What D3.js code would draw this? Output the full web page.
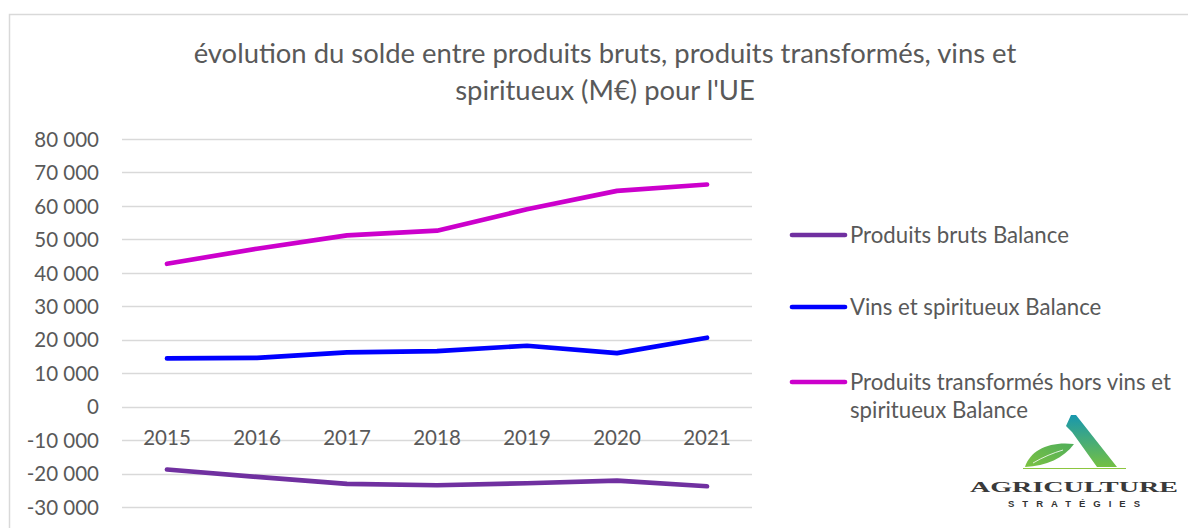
<!DOCTYPE html>
<html>
<head>
<meta charset="utf-8">
<script src="https://cdn.jsdelivr.net/npm/d3@7/dist/d3.min.js"></script>
<style>
  html, body { margin: 0; padding: 0; background: #fff; }
  svg { display: block; }
  text { font-family: Lato, "Open Sans", sans-serif; fill: #595959; }
</style>
</head>
<body>
<svg id="chart" width="1188" height="528"></svg>
<script>
// ---- data ----
const years = ["2015", "2016", "2017", "2018", "2019", "2020", "2021"];
const produitsBruts = [-18800, -21000, -23100, -23500, -22900, -22100, -23800];
const vinsSpiritueux = [14400, 14600, 16200, 16600, 18200, 16000, 20600];
const produitsTransformes = [42700, 47200, 51200, 52600, 59000, 64500, 66400];
const seriesNames = ["Produits bruts Balance", "Vins et spiritueux Balance", "Produits transformés hors vins et spiritueux Balance"];
const yTicks = [-30000, -20000, -10000, 0, 10000, 20000, 30000, 40000, 50000, 60000, 70000, 80000];
const titleLines = ["évolution du solde entre produits bruts, produits transformés, vins et", "spiritueux (M€) pour l'UE"];

const colors = ["#7030A0", "#0000FF", "#CC00CC"];
const seriesValues = [produitsBruts, vinsSpiritueux, produitsTransformes];

const svg = d3.select("#chart");

// frame
svg.append("rect").attr("x", 9.5).attr("y", 14.5).attr("width", 1300).attr("height", 600)
  .attr("fill", "#fff").attr("stroke", "#D9D9D9").attr("stroke-width", 1.5);

function fitText(sel, target) {
  const node = sel.node();
  const w = node.getComputedTextLength();
  const fs = parseFloat(sel.attr("font-size"));
  sel.attr("font-size", (fs * target / w).toFixed(2));
}

// title
const t1 = svg.append("text").attr("x", 605).attr("y", 63).attr("text-anchor", "middle")
  .attr("font-size", 24).text(titleLines[0]);
fitText(t1, 823);
svg.append("text").attr("x", 605).attr("y", 100).attr("text-anchor", "middle")
  .attr("font-size", t1.attr("font-size")).text(titleLines[1]);

// scales
const x = d3.scaleBand().domain(years).range([122, 752]);
const y = d3.scaleLinear().domain([-30000, 80000]).range([507, 139]);

const locale = d3.formatLocale({ decimal: ",", thousands: " ", grouping: [3], currency: ["", "€"], minus: "-" });
const fmt = locale.format(",d");

// gridlines
svg.append("g").selectAll("line").data(yTicks).join("line")
  .attr("x1", 122).attr("x2", 752)
  .attr("y1", d => Math.round(y(d)) + 0.5).attr("y2", d => Math.round(y(d)) + 0.5)
  .attr("stroke", "#D9D9D9").attr("stroke-width", 1.3);

// y axis labels
const yAxis = d3.axisLeft(y).tickValues(yTicks).tickFormat(d => fmt(d)).tickSize(0).tickPadding(0);
const gy = svg.append("g").attr("transform", "translate(99,0)").call(yAxis);
gy.select(".domain").remove();
gy.selectAll("text").attr("font-size", 20.5).attr("fill", "#595959")
  .style("font-family", "Lato, sans-serif").attr("dy", "0.35em");

// x axis labels (at zero line)
const xAxis = d3.axisBottom(x).tickSize(0).tickPadding(0);
const gx = svg.append("g").attr("transform", `translate(0,${y(0)})`).call(xAxis);
gx.select(".domain").remove();
gx.selectAll("text").attr("font-size", 20.5).attr("fill", "#595959")
  .style("font-family", "Lato, sans-serif").attr("y", 31).attr("dy", "0.35em");

// lines
const line = d3.line().x((d, i) => x(years[i]) + x.bandwidth() / 2).y(d => y(d));
seriesValues.forEach((vals, k) => {
  svg.append("path").datum(vals).attr("d", line)
    .attr("fill", "none").attr("stroke", colors[k]).attr("stroke-width", 4.7)
    .attr("stroke-linecap", "round").attr("stroke-linejoin", "round");
});

// legend
const legY = [235, 307, 382];
seriesNames.forEach((name, k) => {
  svg.append("line").attr("x1", 792).attr("x2", 845).attr("y1", legY[k]).attr("y2", legY[k])
    .attr("stroke", colors[k]).attr("stroke-width", 4.7).attr("stroke-linecap", "round");
});
const lg0 = svg.append("text").attr("x", 850).attr("y", legY[0]).attr("dy", "0.35em").attr("font-size", 20).text(seriesNames[0]);
fitText(lg0, 219);
const lfs = lg0.attr("font-size");
svg.append("text").attr("x", 850).attr("y", legY[1]).attr("dy", "0.35em").attr("font-size", lfs).text(seriesNames[1]);
svg.append("text").attr("x", 850).attr("y", legY[2]).attr("dy", "0.35em").attr("font-size", lfs).text("Produits transformés hors vins et");
svg.append("text").attr("x", 850).attr("y", legY[2] + 28).attr("dy", "0.35em").attr("font-size", lfs).text("spiritueux Balance");

// logo
const defs = svg.append("defs");
const grad = defs.append("linearGradient").attr("id", "gA").attr("x1", 0).attr("y1", 0).attr("x2", 0).attr("y2", 1);
grad.append("stop").attr("offset", "0%").attr("stop-color", "#1897AE");
grad.append("stop").attr("offset", "100%").attr("stop-color", "#74C043");
const grad2 = defs.append("linearGradient").attr("id", "gL").attr("x1", 0).attr("y1", 1).attr("x2", 1).attr("y2", 0);
grad2.append("stop").attr("offset", "0%").attr("stop-color", "#7DC242");
grad2.append("stop").attr("offset", "100%").attr("stop-color", "#4FAE5A");
const logo = svg.append("g");
logo.append("path").attr("d", "M1071,415 L1076,415 L1117,467 L1097,467 L1072,432 L1066,426 Z").attr("fill", "url(#gA)");
logo.append("path").attr("d", "M1025,467 C1030,450 1050,441 1074,444 C1064,458 1046,466 1025,467 Z").attr("fill", "url(#gL)");
logo.append("path").attr("d", "M1033,463 C1043,457 1053,453 1063,450").attr("stroke", "#fff").attr("stroke-width", 0.8).attr("fill", "none");
logo.append("line").attr("x1", 1023).attr("x2", 1126).attr("y1", 468.5).attr("y2", 468.5).attr("stroke", "#8CC63F").attr("stroke-width", 1);
logo.append("text").attr("x", 970).attr("y", 492).attr("font-size", 15).attr("font-weight", "bold")
  .style("font-family", "'Liberation Serif', serif").style("fill", "#3a3a3a")
  .attr("textLength", 208).attr("lengthAdjust", "spacingAndGlyphs").text("AGRICULTURE");
logo.append("text").attr("x", 1008).attr("y", 507).attr("font-size", 9.5).attr("font-weight", "bold")
  .style("font-family", "'Liberation Sans', sans-serif").style("fill", "#333")
  .attr("textLength", 132).attr("lengthAdjust", "spacing").text("STRATÉGIES");
</script>
</body>
</html>
